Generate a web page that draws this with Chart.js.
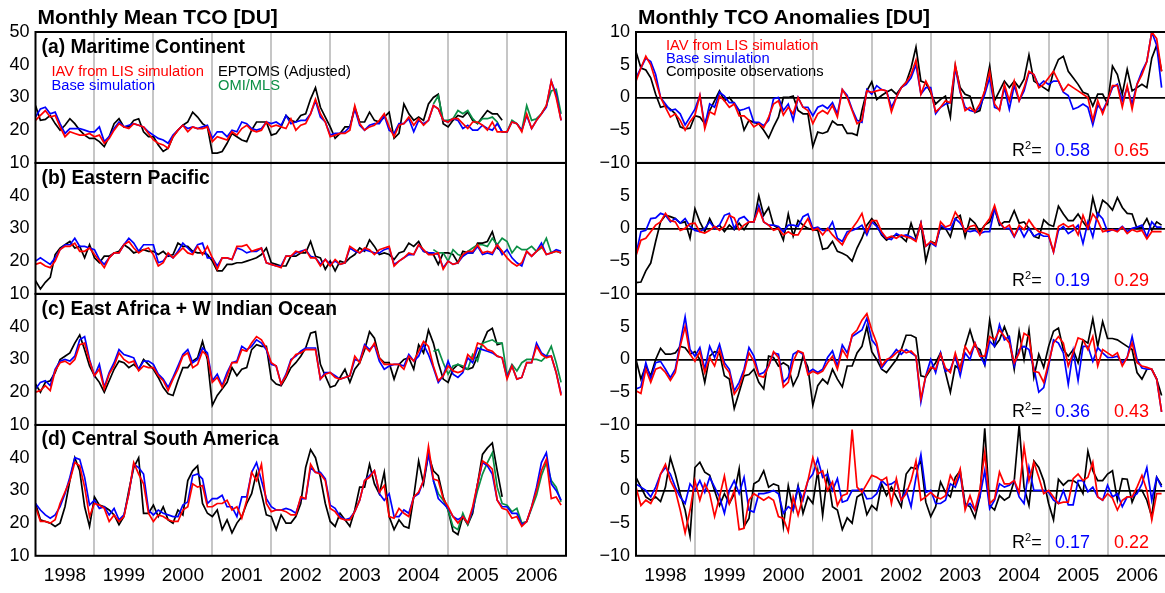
<!DOCTYPE html>
<html>
<head>
<meta charset="utf-8">
<script src="https://cdn.jsdelivr.net/npm/chart.js@4.4.1/dist/chart.umd.min.js"></script>
<style>
  body { margin: 0; background: #fff; width: 1165px; height: 593px; position: relative; overflow: hidden;
         font-family: "Liberation Sans", Arial, Helvetica, sans-serif; }
  canvas { position: absolute; }
  .t { position: absolute; white-space: nowrap; line-height: 1; transform: translateY(-50%); z-index: 5; }
  .title { font-weight: bold; font-size: 21px; }
  .plab { font-weight: bold; font-size: 19.3px; }
  .leg { font-size: 14.7px; }
  .r2 { font-size: 18px; }
  .r2 sup { font-size: 11px; vertical-align: 7px; line-height: 0; }
</style>
</head>
<body>

<div class="t title" style="left:37.5px;top:16px">Monthly Mean TCO [DU]</div>
<div class="t title" style="left:638px;top:16px">Monthly TCO Anomalies [DU]</div>

<div id="labels"></div>

<div class="t leg" style="left:51.5px;top:71px;color:#ff0000">IAV from LIS simulation</div>
<div class="t leg" style="left:51.5px;top:84.5px;color:#0000ff">Base simulation</div>
<div class="t leg" style="left:218px;top:71px;color:#000">EPTOMS (Adjusted)</div>
<div class="t leg" style="left:218px;top:84.5px;color:#0b8f45">OMI/MLS</div>

<div class="t leg" style="left:666px;top:44.5px;color:#ff0000">IAV from LIS simulation</div>
<div class="t leg" style="left:666px;top:58px;color:#0000ff">Base simulation</div>
<div class="t leg" style="left:666px;top:71px;color:#000">Composite observations</div>

<script>
// ---- categories ----
const years = [1998, 1999, 2000, 2001, 2002, 2003, 2004, 2005, 2006];
const monthNames = ['Jan', 'Feb', 'Mar', 'Apr', 'May', 'Jun', 'Jul', 'Aug', 'Sep', 'Oct', 'Nov', 'Dec'];
const months = years.flatMap(y => monthNames.map(m => m + ' ' + y));
const omiStart = 'Oct 2004';
const regions = ['(a) Maritime Continent', '(b) Eastern Pacific', '(c) East Africa + W Indian Ocean', '(d) Central South America'];

// ---- monthly mean TCO [DU] ----
// (a) Maritime Continent
const tcoLisMC = [
  23, 24.5, 26, 24, 24.5, 21, 18, 19.5, 19, 18.5, 18.5, 19,
  18, 18.5, 16, 17.5, 20, 22, 21, 20.5, 22, 21.5, 21, 19,
  17, 16, 15.5, 14.5, 18, 20, 21.5, 19.5, 21, 20.5, 20.5, 21,
  16.5, 18, 17.5, 17, 19.5, 18.5, 20.5, 21.5, 20, 19.5, 20, 22.5,
  21, 21.5, 21, 20.5, 23.5, 20, 21.5, 22, 25, 29.5, 25, 22.5,
  18, 18.5, 19, 19, 20, 27.5, 22, 20, 21, 21.5, 23, 25,
  21, 18, 21.5, 22, 24, 21.5, 23.5, 21.5, 23, 27.5, 26.5, 23,
  22.5, 23.5, 23.5, 22, 20.5, 22.5, 22.5, 21.5, 20, 22.5, 19.5, 19.5,
  19.5, 22.5, 22, 19.5, 25, 20.5, 23, 25, 27.5, 35, 30, 23
];
const tcoBaseMC = [
  24, 26.5, 27, 25, 25.5, 22, 19, 20.5, 20.5, 20.5, 20, 19.5,
  19.5, 21, 16.5, 18, 20.5, 22.5, 21, 21.5, 22, 21.5, 21, 19.5,
  18.5, 17.5, 17, 16, 18.5, 20, 21.5, 20.5, 21, 20.5, 21, 21.5,
  17.5, 19.5, 19.5, 18, 20, 19.5, 22.5, 22, 20.5, 20, 20.5, 22.5,
  22, 22.5, 21.5, 24.5, 22, 22.5, 23, 23, 25, 29, 24, 22.5,
  18.5, 19, 19, 19.5, 21, 26.5, 21.5, 20, 21.5, 22, 22, 24.5,
  20, 19, 22, 22, 23.5, 19.5, 23, 22, 23, 27.5, 26.5, 23,
  22.5, 23.5, 23, 20.5, 21.5, 20, 20, 21.5, 20.5, 20, 22, 19.5,
  19.5, 22.5, 22, 20, 24.5, 20.5, 23, 25, 27, 35, 31, 23
];
const tcoEptomsMC = [
  27.5, 23, 23.3, 24.5, 22, 20, 21.5, 23.5, 22, 20, 18.5, 17.5,
  17.5, 16.5, 15, 18, 22, 23.5, 21, 21, 23, 23.5, 19.5, 18,
  18, 15.5, 13.5, 14.5, 18, 20, 21.5, 22.5, 25.5, 24, 22, 21,
  13, 13, 13.5, 16, 19, 18, 17, 16.5, 20, 22.5, 22.5, 22.5,
  18.5, 19, 21, 24.5, 23, 22.5, 24.5, 25, 29.5, 33, 27, 24,
  21, 17.5, 19, 21, 21, 27, 22.5, 22.5, 25.5, 23, 22.5, 24,
  25.5, 17.5, 19, 28, 25, 23, 24, 23, 28, 30, 31, 22,
  21, 23, 24.5, 24, 25.5, 23, 22, 24, 26, 25, 25, 23
];
const tcoOmiMC = [
  28, 30.5, 23,
  23, 23.5, 26, 25, 26, 23.5, 22, 23.5, 23.5, 24, 22.5, 19.5,
  19.5, 23, 22, 20, 27.5, 23, 23.5, 25, 27.5, 32, 32.5, 25
];

// (b) Eastern Pacific
const tcoLisEP = [
  19, 19.5, 18.5, 18, 20, 23.5, 24.5, 24.5, 25.5, 23, 23, 24,
  22, 20, 18, 21, 22.5, 22.5, 25, 26, 24, 22.5, 23.5, 24,
  22, 18.5, 19.5, 22.5, 21, 22.5, 24, 22.5, 22, 24.5, 22, 24.5,
  21, 17.5, 21, 21, 20.5, 24.5, 24.5, 25, 23, 23.5, 24, 19.5,
  19, 18.5, 18, 21.5, 21.5, 23, 22.5, 23.5, 21, 21, 18.5, 20.5,
  18.5, 20.5, 19, 19.5, 24.5, 23.5, 22.5, 24, 23.5, 22, 23.5, 24,
  24.5, 18.5, 20, 21, 22.5, 22, 25, 23.5, 22, 22, 22.5, 17.5,
  20, 19, 19.5, 22, 23, 23, 25, 22.5, 23, 22.5, 25, 23,
  21, 19.5, 18.5, 19.5, 23, 21.5, 23, 24.5, 22, 22.5, 23, 22.5
];
const tcoBaseEP = [
  20, 21, 20, 19, 21, 23.5, 25, 25, 27, 24.5, 24.5, 24,
  23.5, 20.5, 19, 21, 22.5, 22.5, 25, 27, 25.5, 23, 25, 25,
  25, 19.5, 20, 22, 21, 23, 25.5, 24, 22.5, 25, 25.5, 21,
  21, 18.5, 21, 21, 20.5, 24, 23.5, 22.5, 23, 23, 24, 19.5,
  19, 18.5, 18.5, 21.5, 21.5, 22.5, 23, 23.5, 21.5, 21, 19, 20.5,
  19, 20, 19, 19.5, 24, 23, 22.5, 23.5, 23, 22.5, 22.5, 23.5,
  24, 19, 20, 21, 22, 22, 25, 23, 22.5, 22.5, 22, 18,
  20, 19, 19.5, 21.5, 22.5, 22.5, 24.5, 22, 22.5, 22, 25, 22,
  23.5, 21, 19.5, 18.5, 23, 21.5, 23, 25.5, 22, 22.5, 23.5, 23
];
const tcoEptomsEP = [
  14, 11.5, 13.5, 15, 22, 24, 25, 26, 24, 24.5, 21, 25,
  21, 19.5, 21.5, 21.5, 22.5, 23, 25, 24, 22.5, 23, 23.5, 23,
  23, 22, 23, 21.5, 22, 25.5, 24.5, 24.5, 23, 22.5, 22.5, 22,
  20, 17, 17, 19, 19, 19.5, 19.5, 20, 20.5, 21, 22, 24,
  19.5, 19, 18.5, 18.5, 21.5, 21.5, 22.5, 22.5, 26, 21.5, 21, 17.5,
  20, 17, 20, 19.5, 21, 22, 24, 23, 26.5, 24.5, 22, 22.5,
  22, 20.5, 22.5, 23, 25.5, 24.5, 26, 23, 22.5, 22, 19, 22.5,
  22.5, 22, 19.5, 23, 22.5, 22.5, 25.5, 25.5, 26, 29, 24, 23
];
const tcoOmiEP = [
  23.5, 22.5, 22.5,
  20, 23.5, 22, 21.5, 23, 24, 25, 25, 24.5, 27, 25, 27,
  26, 22.5, 24.5, 23.5, 23.5, 24.5, 23, 24, 27, 22.5, 23, 22.5
];

// (c) East Africa + W Indian Ocean
const tcoLisEA = [
  20, 20.5, 22, 20.5, 26.5, 29, 29.5, 28.5, 30, 34.5, 35, 29.5,
  25, 27, 21, 25.5, 28, 32, 30, 29, 29.5, 26.5, 28, 27.5,
  27.5, 25, 23.5, 20.5, 24, 27, 31, 32, 27.5, 28.5, 32.5, 31,
  23, 24.5, 21.5, 25, 29, 29, 33, 32.5, 35, 37, 36, 33.5,
  29, 28, 22.5, 25, 29.5, 31.5, 32, 33, 33, 33, 24, 25.5,
  26, 24.5, 24, 24.5, 25, 31, 29, 34, 32.5, 35, 30.5, 28.5,
  28.5, 28.5, 28.5, 27, 31, 29.5, 32.5, 35.5, 34, 28, 23.5, 25,
  28, 26.5, 26, 26.5, 31.5, 30, 35, 34.5, 33, 32.5, 31, 30.5,
  24, 28, 24, 24.5, 29, 29, 34, 31.5, 30.5, 31, 26, 19
];
const tcoBaseEA = [
  21, 23, 23.5, 22, 27, 29.5, 30, 29.5, 31, 36, 37, 30,
  25, 28.5, 21.5, 26, 29, 33, 31.5, 31, 30.5, 27, 29.5, 29.5,
  28.5, 25.5, 24, 21.5, 24.5, 28, 31.5, 33, 29, 30, 33.5, 32,
  23.5, 25.5, 22, 26, 29, 29.5, 34, 33, 34, 36, 35, 33,
  28.5, 28, 22.5, 25.5, 30, 31, 32.5, 33.5, 33.5, 33.5, 24, 26,
  26, 25, 24, 24.5, 25, 30, 29.5, 34.5, 33, 34.5, 29.5, 27,
  28, 28.5, 28.5, 28, 31.5, 29.5, 31, 34.5, 31.5, 27.5, 23, 25,
  29.5, 25.5, 24.5, 26, 30.5, 29, 33.5, 33, 32.5, 32, 31, 30.5,
  24.5, 28, 24, 24.5, 29, 29, 35, 32, 31, 31, 26, 19.5
];
const tcoEptomsEA = [
  22.5, 20, 23, 23.5, 26, 30, 31, 32, 35, 37.5, 33, 28,
  25, 23, 20, 23.5, 27, 29.5, 29, 27.5, 28.5, 27, 30, 28.5,
  27, 24.5, 21.5, 19.5, 19, 23.5, 27.5, 27.5, 29.5, 30.5, 35.5, 30,
  16, 19, 21, 23, 27.5, 25, 27, 27.5, 33, 34.5, 34, 34,
  24, 22.5, 22, 24.5, 27.5, 29, 31, 33.5, 38, 38.5, 28.5, 25,
  21.5, 22, 24.5, 27, 23, 27, 29, 33, 38.5, 36.5, 30.5, 29,
  29, 24, 28.5, 30, 30.5, 27, 34.5, 32, 39, 35, 29, 24,
  23, 27, 28.5, 27.5, 27, 27.5, 31, 35, 38.5, 39.5, 34.5, 35
];
const tcoOmiEA = [
  32.5, 33, 29,
  25.5, 28, 28.5, 28, 27, 31.5, 29.5, 35, 35.5, 36, 35, 35,
  25, 28.5, 26.5, 29, 30, 30, 30, 29.5, 31, 34, 29, 23
];

// (d) Central South America
const tcoLisSA = [
  25, 20.5, 20.5, 20, 21, 26, 29.5, 33, 38.5, 37.5, 31, 22,
  26, 25.5, 24.5, 20.5, 22.5, 20.5, 22, 29, 38.5, 35, 32, 23,
  20.5, 22.5, 22, 21, 20.5, 20.5, 24, 25, 32, 31, 31.5, 25,
  25, 26, 26, 27, 24, 25, 21.5, 27, 35.5, 33, 38, 26,
  23.5, 24, 24, 23.5, 22.5, 22.5, 28, 27.5, 38, 35.5, 35, 33,
  24.5, 23.5, 21.5, 21, 21, 23.5, 27, 33, 34, 36, 29.5, 31.5,
  22, 21.5, 24.5, 23, 22, 28, 29.5, 33, 43.5, 33.5, 33, 27.5,
  25, 22, 20, 22, 20, 25, 32, 39, 38, 36.5, 27, 24.5,
  24, 21.5, 22, 19, 20.5, 25, 30, 36, 39.5, 27.5, 28, 25.5
];
const tcoBaseSA = [
  26, 24, 22.5, 21.5, 22.5, 25, 29, 34, 40, 39.5, 34, 25.5,
  27, 24.5, 25, 22.5, 24.5, 21, 22.5, 29, 38, 37, 35, 24,
  22.5, 24, 23, 22.5, 22, 22, 25.5, 26.5, 34.5, 35, 33.5, 26,
  27.5, 27.5, 28.5, 25, 25, 22, 28, 28, 35.5, 38.5, 33, 27.5,
  25, 24, 24, 24.5, 24, 23, 27.5, 27.5, 37, 35.5, 35.5, 33.5,
  25.5, 24.5, 22, 21, 21.5, 23.5, 27, 33, 34.5, 36, 29, 27,
  29, 22, 22, 24, 23, 28, 29, 33, 41, 33, 27.5, 26,
  24.5, 22, 21, 22, 20, 24, 32, 38.5, 37.5, 35, 27, 25,
  25, 23, 23, 19.5, 20.5, 25, 31, 38.5, 41.5, 32, 30, 27
];
const tcoEptomsSA = [
  26, 21, 20.5, 20, 19, 20, 25, 33, 40, 36, 25, 19,
  28, 25.5, 25, 24, 22.5, 19.5, 22, 30, 37, 40, 23, 23,
  25.5, 22, 25, 21, 20, 24, 22.5, 33, 36, 37.5, 26, 23,
  22, 24, 18, 21, 17, 20, 22, 26, 29, 35.5, 29, 22.5,
  22, 18, 22.5, 20, 20, 22, 26, 37, 42.5, 40, 34, 26,
  20.5, 19, 23, 21, 19, 24, 31, 31, 38, 32, 29, 35.5,
  22, 18, 21, 19, 18.5, 28, 39, 32, 41, 36, 34.5, 28,
  24, 17.5, 16.5, 22, 19.5, 23, 32, 41, 43, 44.5, 36, 28
];
const tcoOmiSA = [
  33, 29, 27,
  24, 19, 18, 23, 19.5, 24, 30, 35, 38.5, 41.5, 31, 26,
  25.5, 23.5, 24.5, 20, 20.5, 24.5, 28.5, 34.5, 38.5, 33, 31, 26.5
];

// ---- monthly TCO anomalies [DU] ----
const anomLisMC = [
  2.5, 4.5, 6.3, 5, 2.5, 0, -1.5, -3, -2.5, -3.5, -5, -3.7,
  -2.7, 0.3, -4.8, -2.2, -2.6, 0.2, -0.5, -1.5, -1, -2.8, -2.8, -3.5,
  -4.5, -4, -4.6, -3, -1, -0.5, -2.7, -1.5, -2.5, 0, -1.5, -2,
  -4, -2.5, -2, -2.5, -1.2, -3, 1.2, 0, -2, -4, -3.5, 1,
  0.8, 1, 1.2, 1, -2.2, 0, 1.5, 2.3, 3.5, 5.7, 0.5, 2.5,
  1, -2.2, -1.5, -0.5, -0.8, 5, 1, -2, -1.5, -2.2, -1, 1,
  4, -1, -2, 2, -0.5, 2.5, -0.5, 1.5, 4, 3.5, 1.5, 2,
  3, 4, 2.5, 1, 2, 1.5, 1, 0.5, 0, -3.5, -0.5, -2.5,
  -0.5, 1.8, 1.8, -1.5, 1.8, -1.8, 2, 3.5, 5.5, 10, 9, 4
];
const anomBaseMC = [
  3, 4.5, 6, 5.5, 3.5, 0, -1, -2, -1.8, -2.5, -4.2, -3,
  -1.8, 0.3, -4.3, -1, -1.5, 0.8, 0.2, -0.8, -0.8, -2, -1.8, -1.5,
  -3.8, -3.8, -4.3, -3.5, -0.2, 0, -2, -1, -3.5, 0, -1.5, -1.5,
  -2.8, -1.5, -1.2, -1.7, -0.8, -2.5, 1.2, 0.3, -1.8, -3.5, -3.8, 1.2,
  0.5, 1.8, 1.2, 1, -1.5, 0, 1.5, 2, 3, 5, 0.5, 1.5,
  1.5, -2.5, -1.5, -1, -0.8, 4.5, 0.8, -1.5, -2, -2.2, -1.5, 0.5,
  3, -1.5, -1.8, 1.5, -1.8, 1.8, -0.5, 1, 3.8, 3.5, 1.8, 2.5,
  2, 2.5, 2.5, 0.8, 0.3, -1.8, -1.5, -1, -1.5, -4.2, -1.2, -2,
  -0.5, 1.5, 2, -0.5, 1.5, -1, 2, 4, 5.5, 10, 8, 1.5
];
const anomObsMC = [
  7, 4.5, 4.2, 3, 0.5, -1.5, -1.3, -1.8, -2.5, -4.5, -4.8, -4.7,
  -2.8, -3, -4, -2, -0.5, 1, -0.5, 0, -1, -2, -5, -3.5,
  -3.8, -4, -5, -6.2, -4.5, -3, 0, 0, 0.2, -2, -2.5, -2.5,
  -7.5, -5.3, -5.5, -5.2, -3.6, -4.2, -4.2, -5.5, -5.5, -5.8, -2, 1,
  2.4, -0.3, 0.3, 0.8, 1.2, 0.5, 1.5, 2.3, 4.5, 7.7, 2.5, 2.2,
  0.7, -1, -0.3, 0.2, -3, 4.8, 1.5, 0.5, 0.2, -2.3, -2, 1,
  4.8, -0.5, 1, 2.5, 1.5, 2.5, 1.5, 2.8, 6.5, 2.5, 2, 1.5,
  1, 4, 5.8, 6.3, 4, 3, 2, 0.8, 0.5, -1.3, 0.5, 0.5,
  -1, 4.8, 3.5, 0.5, 4.3, 1, 1.5, 2, 1.5, 6, 8, 4
];

const anomLisEP = [
  -4.2, -1.8, -1.5, -0.5, 0.5, 1, 2.3, 1.2, 1, -0.3, 0, 0.7,
  0.8, -0.5, -0.7, -0.3, 0.3, -0.3, 0.3, 2, 1.6, -0.2, 0.5, 1,
  1, 3, 1, 0.5, -0.3, 0, -1, -0.5, -1, -1, 0.3, 1.5,
  -0.3, 0, -1, 0, -1, -1.8, -2.5, -1, 0, 1, 2.3, -0.5,
  1.2, 1.2, -0.5, -1.5, -1.2, -1.5, -1, -1.3, -1.5, -2, 0.8, -2.7,
  -2, -2.5, 1, 0.2, 0.5, 2.5, 1.3, -0.5, 0.3, 0.5, -1, 0.5,
  1.5, 3.5, 1, 0, 0.5, -1.2, 0.5, -0.2, 1.3, 0.2, -0.5, -0.7,
  -1, -3.6, 0.3, 0.7, 0.2, 0.5, -1, 2, 0, 2.2, 1.2, -0.5,
  -0.3, -0.2, -0.5, 0.2, -0.8, -0.2, -0.5, -0.3, -1.6, -0.5, -0.5, -0.5
];
const anomBaseEP = [
  -4, -0.5, -0.3, 1.5, 1.6, 2.3, 2, 1, 1.5, 0.8, 1.5, 0.3,
  -0.3, -0.5, 0, 1, 0, 0.5, 2, 2.3, 0, 1.5, 1.8, 1,
  1, 3.5, 1, 0.5, 0.5, 0.3, -0.5, 0.5, 0.5, 0.3, 1.8, 2.2,
  0, 0.2, -0.3, -0.3, 1, -1.5, -2, -0.5, -0.3, 0, 0.5, -1,
  1, 0.3, -0.8, -1.5, -1.7, -0.8, -1.2, -1, -1.3, -1.8, 0.8, -2.7,
  -2.2, -2.7, 0.5, 0, -0.2, 1.5, 0.8, -0.3, -0.5, -0.3, -0.8, -0.5,
  -0.5, 3, 0.8, 0, 0, -1.3, 0.2, -1.3, 0, -1.2, -0.8, -1.2,
  -1.2, -3.6, -0.3, 0.3, -0.8, -0.3, 0.5, -2.3, 1, -1.3, 2.3, 1.5,
  -0.5, -0.2, -0.3, 0.3, -0.5, 0, 0.2, 0.5, -1.3, 1, 0.2, 0.2
];
const anomObsEP = [
  -8.3, -8.2, -6.5, -5.3, -2, 1, 2, 1.8, 1.5, 0.8, 1, -1.5,
  3, 1, -0.5, 1.5, 0, 0.5, -0.5, 0.5, -0.2, 0.8, -0.2, 1,
  1, 5, 2, 3.2, 0.5, 0, -1.8, 2.2, -1.2, 1.2, 0.5, 0,
  -0.2, -0.3, -3.2, -3, -2, -3.5, -3.8, -4.2, -5, -3, -1.5, 0.5,
  1.5, 0.5, -1, -1.8, -1.3, -1, -1.3, -2, 0.8, -1.5, 0.8, -5,
  -2, -2.3, 0.2, 0, -1.3, 1.5, 2, -1.3, 1.5, 0.8, -0.5, 0.5,
  1, 3, 0.5, 1, 1, 2.7, 0.8, 1, 0, -1.2, -1.5, 1.3,
  0.6, 0.3, 3.4, 2.2, 1.2, 1.2, 2.2, 1, 0, 4.7, 1.8, 4.3,
  3.7, 2.8, 4.7, 3.2, 2.3, 2.2, 0, 0.2, 1.5, -0.3, 1, 0.5
];

const anomLisEA = [
  -4.8, -5.2, -1.5, -3.5, -1.5, -1.2, -2, -3.2, -2, 2, 5, 0.8,
  -0.3, 1.2, -2, 0.3, -1, 1.5, -1, -2, -5.3, -4.2, -2, 1,
  -0.3, -2.5, -2.7, -1, 1.2, 0.3, -4.2, -3.5, -0.3, 1.3, 1, -2.3,
  -1.8, -2.2, -1.8, -0.5, 0.5, -1.5, 1.5, 0.3, 3.8, 4.5, 6, 7,
  4.5, 2.5, -1, 0, 0.3, 1, 1.5, 1, 1.3, 0.5, -6, -2.5,
  -1.2, -1.5, 0.8, -1.3, -2, 1, -1.5, 2, 0.8, 2.5, 0.5, 0.5,
  3.5, 3, 4.5, 3.5, 2.5, -0.5, 1, 4, 3.5, -1.8, -2, -3.5,
  -0.5, 2.5, 3.5, 2.5, -1, 1, 3.3, 3, 1.5, 3.5, -1, 1.5,
  1, 0.5, 1, -1, 0.3, 2.5, -0.5, -1, -1.2, -1.5, -3, -8
];
const anomBaseEA = [
  -4.5, -4.2, -0.5, -3, -0.5, -0.3, -1.5, -2.8, -1.5, 2.5, 6.5, 1.5,
  0.5, 1.8, -1.5, 2, 0.3, 2.3, -0.5, -1.5, -4.8, -3.5, -1.5, 1.8,
  0.5, -2.3, -2, -1, 1, 0.8, -3.5, -2.7, 0.8, 1.3, 0.8, -2,
  -1.5, -2, -1.5, 0.3, 1.3, -1, 2.2, 1, 3.5, 4, 4.5, 6.3,
  3, 2, -1.3, -0.3, 0.5, 1.5, 0.8, 1.5, 1, 0.5, -6.5, -2.5,
  0, -2, 1, -1.8, -1.5, 0.5, -2.5, 1, 0, 2.5, 0.7, -0.8,
  2.8, 2, 5.3, 3, 3.5, -1, 1.5, 2, 1.5, -1.3, -5, -4.3,
  -1, 3, 2.5, 1, -3.8, 1.3, -3.2, 2, 2, -0.3, 1.8, 1,
  0.3, 0.3, 0.5, -0.5, 0.3, 3.5, 0, -1.3, -1.5, -1.5, -3, -8
];
const anomObsEA = [
  0, -3, -1, -2.5, 0, 1.7, 0.8, 0.8, 1, 2, 1.8, 0.8,
  1.2, 0, -3.5, 0.5, 1.2, 1, -2.5, -3, -7.5, -5, -2.5, -2.3,
  -1.5, -3.5, -4.5, 0.5, 0.3, -1, -0.5, -1, -4, -2.5, 0.5, -1.2,
  -7, -4, -3, -3.7, -1.5, -3, -4.2, -1, -1, 1, 2, 5,
  1.2, 0, -1.5, -2, -1, 0, 1.5, 3.7, 3.7, 3.3, -2.5, -2.7,
  -1.5, -0.5, 1, -2, -5, -1, -1.5, 2, 4.5, 2, 1.5, -0.8,
  6, 2, 3, 5, 3, -1.5, 4.3, 0, 4.5, -2.7, 0.8, -1.2,
  2, 4.3, 4.8, 1.5, 0.5, 1.5, -0.5, 3, 2.5, 6.2, 2, 5.8,
  3.2, 3.2, 3, 2.5, 2, 1.5, -2, -3, -1.5, -1.5, -3, -5.5
];

const anomLisSA = [
  0.5, -2.3, -1.5, -2, -0.5, 2.5, 4, 1.5, 0, -3, -6.5, -3,
  1.5, -1.5, 1, -0.5, -4, -1, 2.2, -2, 0, -6, -5.8, -1.5,
  -0.5, -1, -1.5, -1, -1.5, -4, -4.3, -6.3, -1, -3.8, -1, 1.5,
  5, 2.5, 3, 0, 1.3, -2.3, -0.8, -0.5, 9.3, 0.5, -0.3, 1,
  2.3, 2, 1.5, 2, -2, 1.8, -1.5, -0.5, 1.5, 4.5, -1.5, -1,
  -0.3, -1, -1.3, -0.8, 2.3, 1, 3.3, -3, -0.8, -3, 0, 5.8,
  -2, -1.3, 2.8, 1, 1, 1.5, -0.3, 6.7, 1.5, 4.3, 2, -0.5,
  0, -1, -2, -1.8, -1.8, 1.8, 2.5, 1.5, 2, 4.3, -1, -1.5,
  -0.5, -1.2, -3, -1.5, -1, -1, 0.5, 2.3, 0, -4.5, -0.5, -0.5
];
const anomBaseSA = [
  1, 0.5, 0, -1, 0.5, 2.5, 3.5, 2.5, 0.5, -1, -2, 1,
  0, 1.5, -0.3, 2, 0.5, -1, -3.5, 0, 1.5, -0.5, 2, -3,
  -3.3, -0.5, -0.5, -0.3, 0, -0.5, -3.5, -2.5, -3, 0.5, -1.5, 1.5,
  2.5, 4.8, 2, 2.5, 0, 1.8, -1.8, -1.5, 0, 0, 0.2, -1.3,
  -1.2, -0.5, 1.5, 0.8, 1, 1.5, -1.5, 0, -2.5, 2, 5.5, -0.3,
  0, -2, -2, -1.5, 1, 0.5, 2.5, -2.5, -2, -3, -1, 3,
  -2.8, -1.5, 1, 0.5, 0.8, 1.5, -1, -2, 3.5, 0, 0, 0,
  -0.3, -1.5, -2, 0, -2.2, -2.2, 1.5, 1.5, -0.2, 0.5, -1, -1.5,
  0.8, -1, -0.5, -2.5, -1, -1, -0.5, 1, 3.5, -1.5, 2, 0.5
];
const anomObsSA = [
  2, 0.5, -1, -1.5, -1, -1.7, 0.5, 5, 2.5, -0.5, -3, -7,
  3.5, 4.3, 2.8, 2.3, 0, -2.3, -0.5, -2, -0.5, 3.3, -5.5, -4.3,
  1, 1.5, 3, 0.5, 1, 0.7, -5.5, 0.7, -3, 0.7, -3.5, -1,
  -2, 3, -3.8, 2.5, -2.5, -3, -6, -4.2, -5, -1, -0.5, -3.7,
  -2.3, -3, 1, -0.8, 0.5, -1, -2.5, 2.5, 3.5, 3.3, 4.5, -1.8,
  -4, -2.5, 1.3, -0.3, -1, 2, 3, -2, -2.5, -4.2, -1, 9.5,
  -2.3, -3, -0.8, -1.5, -1, 1.5, 10, 0.5, -2.3, 4.5, 3.5, 1.5,
  -2, -4.5, 1.7, 0.8, 1.5, 1.5, 1, -0.5, 6, 3, 1.5, 1.5,
  2.5, 3, -1.5, 1.8, 1.7, -1.8, 0, 0, -1.5, -4, 2, 0.8
];

// R^2 of base / LIS simulations vs. composite observations
const r2Base = ['0.58', '0.19', '0.36', '0.17'];
const r2Lis = ['0.65', '0.29', '0.43', '0.22'];

// ---- layout ----
const RED = '#ff0000', BLUE = '#0000ff', BLACK = '#000000', GREEN = '#0b8f45';
const FONT = '"Liberation Sans", Arial, Helvetica, sans-serif';
const TOPS = [32.3, 163.2, 294, 424.9, 555.7];
const COLS = [
  { left: 0, width: 575, axisW: 35.5, padR: 9, yMin: 10, yMax: 50, step: 10, zero: false },
  { left: 580, width: 590, axisW: 56, padR: 3.5, yMin: -10, yMax: 10, step: 5, zero: true }
];

Chart.defaults.font.family = FONT;
Chart.defaults.color = '#000';

const framePlugin = {
  id: 'frame',
  afterDraw(chart) {
    const { ctx, chartArea: a } = chart;
    ctx.save();
    ctx.strokeStyle = '#000';
    ctx.lineWidth = 2;
    ctx.strokeRect(a.left, a.top, a.right - a.left, a.bottom - a.top);
    ctx.restore();
  }
};

function fmt(v) {
  return v < 0 ? '\u2212' + Math.abs(v) : String(v);
}

// month index on the x axis (0 = Jan 1998)
function pts(values, start = 0) {
  return values.map((v, k) => ({ x: start + k, y: v }));
}
function omiPts(values) {
  return pts(values, months.indexOf(omiStart));
}

function line(label, data, color) {
  return { label, data, borderColor: color, backgroundColor: color, borderWidth: 1.7,
           pointRadius: 0, tension: 0, fill: false };
}

function panel(col, row, datasets) {
  const c = COLS[col];
  const top = TOPS[row];
  const h = TOPS[row + 1] - top;
  const bottom = row === 3;
  const xH = bottom ? 34 : 0;
  const cv = document.createElement('canvas');
  cv.width = c.width;
  cv.height = Math.ceil(h + 10 + (bottom ? xH : 10));
  cv.style.left = c.left + 'px';
  cv.style.top = (top - 10) + 'px';
  document.body.appendChild(cv);

  new Chart(cv, {
    type: 'line',
    data: { datasets },
    options: {
      responsive: false,
      animation: false,
      devicePixelRatio: 1,
      layout: { padding: { top: 10, bottom: cv.height - 10 - h - xH, left: 0, right: c.padR } },
      plugins: { legend: { display: false }, tooltip: { enabled: false } },
      scales: {
        x: {
          type: 'linear',
          min: 0,
          max: months.length,
          border: { display: false },
          afterBuildTicks: (s) => {
            s.ticks = [];
            for (let v = 6; v < months.length; v += 6) s.ticks.push({ value: v });
          },
          grid: {
            drawTicks: false,
            lineWidth: 2,
            color: (ctx) => (ctx.tick && ctx.tick.value % 12 === 0) ? '#c6c6c6' : 'rgba(0,0,0,0)'
          },
          ticks: {
            display: bottom,
            autoSkip: false,
            maxRotation: 0,
            minRotation: 0,
            padding: 9,
            color: '#000',
            font: { size: 19, family: FONT },
            callback: (v) => (v % 12 === 6) ? String(years[(v - 6) / 12]) : ''
          },
          afterFit: (s) => { s.height = xH; s.paddingLeft = 0; s.paddingRight = 0; }
        },
        y: {
          min: c.yMin,
          max: c.yMax,
          border: { display: false },
          grid: {
            drawTicks: false,
            lineWidth: 1.8,
            color: (ctx) => (c.zero && ctx.tick && ctx.tick.value === 0) ? '#000' : 'rgba(0,0,0,0)'
          },
          ticks: {
            stepSize: c.step,
            padding: 6,
            color: '#000',
            font: { size: 18, family: FONT },
            callback: (v) => (row > 0 && v === c.yMax) ? '' : fmt(v)
          },
          afterFit: (s) => { s.width = c.axisW; s.paddingTop = 0; s.paddingBottom = 0; }
        }
      }
    },
    plugins: [framePlugin]
  });
}

// left column: monthly means
const meanSets = [
  [tcoLisMC, tcoBaseMC, tcoOmiMC, tcoEptomsMC],
  [tcoLisEP, tcoBaseEP, tcoOmiEP, tcoEptomsEP],
  [tcoLisEA, tcoBaseEA, tcoOmiEA, tcoEptomsEA],
  [tcoLisSA, tcoBaseSA, tcoOmiSA, tcoEptomsSA]
];
meanSets.forEach(([lis, base, omi, ept], row) => {
  panel(0, row, [line('IAV from LIS simulation', pts(lis), RED), line('Base simulation', pts(base), BLUE),
                 line('OMI/MLS', omiPts(omi), GREEN), line('EPTOMS (Adjusted)', pts(ept), BLACK)]);
});

// right column: anomalies
const anomSets = [
  [anomLisMC, anomBaseMC, anomObsMC],
  [anomLisEP, anomBaseEP, anomObsEP],
  [anomLisEA, anomBaseEA, anomObsEA],
  [anomLisSA, anomBaseSA, anomObsSA]
];
anomSets.forEach(([lis, base, obs], row) => {
  panel(1, row, [line('IAV from LIS simulation', pts(lis), RED), line('Base simulation', pts(base), BLUE),
                 line('Composite observations', pts(obs), BLACK)]);
});

// panel titles and R^2 annotations
const box = document.getElementById('labels');
regions.forEach((name, k) => {
  box.insertAdjacentHTML('beforeend', `<div class="t plab" style="left:41.5px;top:${TOPS[k] + 14.5}px">${name}</div>`);
  const y = TOPS[k + 1] - 13.6;
  box.insertAdjacentHTML('beforeend',
    `<div class="t r2" style="left:1012px;top:${y}px">R<sup>2</sup>=</div>` +
    `<div class="t r2" style="left:1055px;top:${y}px;color:${BLUE}">${r2Base[k]}</div>` +
    `<div class="t r2" style="left:1114px;top:${y}px;color:${RED}">${r2Lis[k]}</div>`);
});
</script>
</body>
</html>
